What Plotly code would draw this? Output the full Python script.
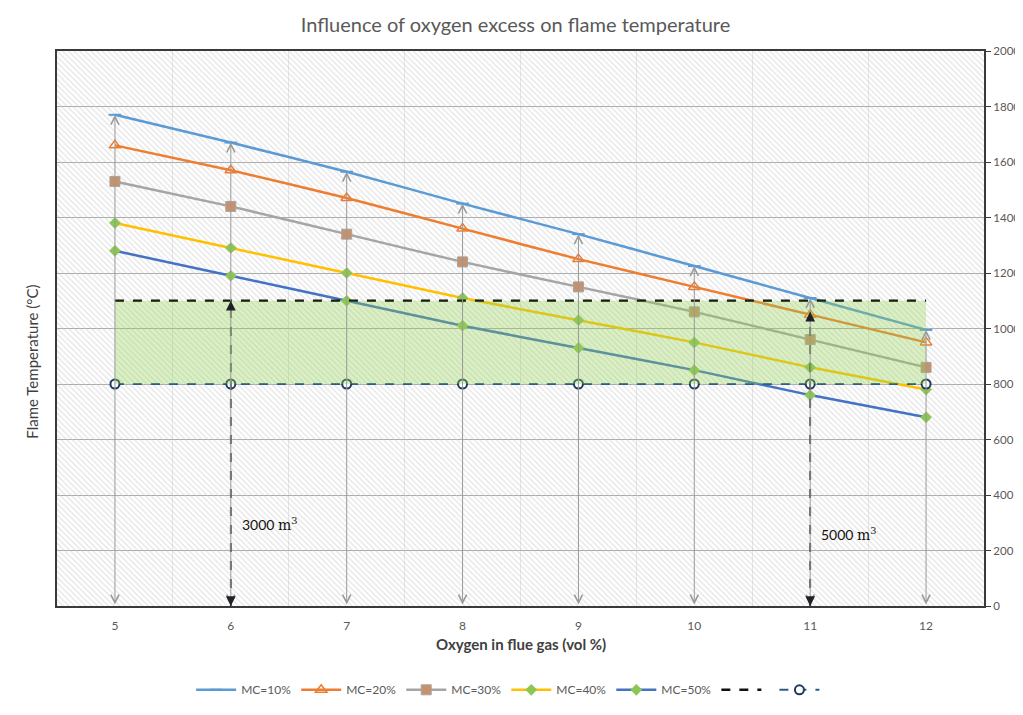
import plotly.graph_objects as go

# ---- data ----
oxygen = [5, 6, 7, 8, 9, 10, 11, 12]
mc10 = [1770, 1670, 1565, 1450, 1340, 1225, 1110, 995]
mc20 = [1660, 1570, 1470, 1360, 1250, 1150, 1050, 950]
mc30 = [1530, 1440, 1340, 1240, 1150, 1060, 960, 860]
mc40 = [1380, 1290, 1200, 1110, 1030, 950, 860, 780]
mc50 = [1280, 1190, 1100, 1010, 930, 850, 760, 680]
series_names = ["MC=10%", "MC=20%", "MC=30%", "MC=40%", "MC=50%"]
upper_limit = [1100] * len(oxygen)
lower_limit = [800] * len(oxygen)
volume_x = [6, 11]
volume_top = [1100, 1060]
volume_labels = ["3000", "5000"]
y_ticks = [0, 200, 400, 600, 800, 1000, 1200, 1400, 1600, 1800, 2000]

X_RANGE = [4.5, 12.5]
Y_RANGE = [0, 2000]

FONT = "Lato, 'Open Sans', sans-serif"
GRAY_TXT = "#595959"

fig = go.Figure()

# hatched plot background
fig.add_trace(go.Scatter(
    x=[X_RANGE[0], X_RANGE[1], X_RANGE[1], X_RANGE[0], X_RANGE[0]],
    y=[Y_RANGE[0], Y_RANGE[0], Y_RANGE[1], Y_RANGE[1], Y_RANGE[0]],
    mode="lines", line=dict(width=0), fill="toself",
    fillcolor="rgba(255,255,255,0)",
    fillpattern=dict(shape="\\", fgcolor="#c8c8c8", bgcolor="rgba(255,255,255,0)",
                     size=4, solidity=0.3),
    hoverinfo="skip", showlegend=False))

styles = [
    dict(color="#5B9BD5", marker=dict(symbol="line-ew", size=9,
                                      line=dict(color="#5B9BD5", width=2))),
    dict(color="#ED7D31", marker=dict(symbol="triangle-up-open", size=10,
                                      color="#ED7D31", line=dict(width=1.5))),
    dict(color="#A5A5A5", marker=dict(symbol="square", size=10, color="#C8916A",
                                      line=dict(color="#A5A5A5", width=1))),
    dict(color="#FFC000", marker=dict(symbol="diamond", size=9, color="#8CC653")),
    dict(color="#4472C4", marker=dict(symbol="diamond", size=9, color="#8CC653")),
]
for name, ys, st in zip(series_names, [mc10, mc20, mc30, mc40, mc50], styles):
    fig.add_trace(go.Scatter(
        x=oxygen, y=ys, name=name, mode="lines+markers",
        line=dict(color=st["color"], width=2.5, shape="spline", smoothing=0.5),
        marker=st["marker"]))

# threshold lines
fig.add_trace(go.Scatter(
    x=oxygen, y=upper_limit, name=" ", mode="lines",
    line=dict(color="#111111", width=2.5, dash="dash")))
fig.add_trace(go.Scatter(
    x=oxygen, y=lower_limit, name=" ", mode="lines+markers",
    line=dict(color="#2E5C8A", width=2, dash="dash"),
    marker=dict(symbol="circle", size=9, color="white",
                line=dict(color="#1F3B5C", width=2))))

# vertical dashed volume lines
for vx, vt in zip(volume_x, volume_top):
    fig.add_trace(go.Scatter(
        x=[vx, vx], y=[0, vt], mode="lines",
        line=dict(color="#2B2F36", width=1.8, dash="dash"),
        hoverinfo="skip", showlegend=False))

# green feasible band (drawn on top)
fig.add_trace(go.Scatter(
    x=oxygen, y=lower_limit, mode="lines", line=dict(width=0),
    hoverinfo="skip", showlegend=False))
fig.add_trace(go.Scatter(
    x=oxygen, y=upper_limit, mode="lines", line=dict(width=0),
    fill="tonexty", fillcolor="rgba(146,208,80,0.33)",
    hoverinfo="skip", showlegend=False))

annotations = []
# gray double-headed arrows from 0 to MC=10%
for xv, top in zip(oxygen, mc10):
    annotations.append(dict(
        x=xv, y=top, ax=xv, ay=0, xref="x", yref="y", axref="x", ayref="y",
        text="", showarrow=True, arrowside="end+start", arrowhead=5, startarrowhead=5,
        arrowsize=1.6, startarrowsize=1.6, arrowwidth=1, arrowcolor="#9A9A9A",
        standoff=0, startstandoff=0))
# black arrowheads for volume lines
for vx, vt, lab, ly in zip(volume_x, volume_top, volume_labels, [295, 260]):
    annotations.append(dict(
        x=vx, y=vt, ax=0, ay=10, xref="x", yref="y", text="", showarrow=True,
        arrowhead=2, arrowsize=1.3, arrowwidth=1.5, arrowcolor="#1E2228", standoff=0))
    annotations.append(dict(
        x=vx, y=0, ax=0, ay=-10, xref="x", yref="y", text="", showarrow=True,
        arrowhead=2, arrowsize=1.3, arrowwidth=1.5, arrowcolor="#1E2228", standoff=0))
    annotations.append(dict(
        x=vx, y=ly, xref="x", yref="y", xanchor="left", yanchor="middle", xshift=9,
        text=lab + " <span style='font-family:\"DejaVu Serif\", serif'>m<sup>3</sup></span>",
        showarrow=False, font=dict(family=FONT, size=14, color="#111111")))

# axis titles
annotations.append(dict(
    x=-0.039, y=0.44, xref="paper", yref="paper", textangle=-90,
    text="Flame Temperature (°C)", showarrow=False,
    font=dict(family=FONT, size=15, color="#404040")))
annotations.append(dict(
    x=0.5, y=-0.0685, xref="paper", yref="paper", yanchor="middle",
    text="<b>Oxygen in flue gas (vol %)</b>", showarrow=False,
    font=dict(family=FONT, size=15, color="#404040")))

# figure is placed 8px into the page by the default body margin;
# keep it small enough that the page never needs a scrollbar
fig.update_layout(
    width=1015, height=692, autosize=False,
    margin=dict(l=49, r=39, t=43, b=94, autoexpand=False),
    paper_bgcolor="white", plot_bgcolor="white",
    title=dict(text="Influence of oxygen excess on flame temperature",
               x=0.5, xref="container", xanchor="center",
               y=0.9754, yref="container", yanchor="middle",
               font=dict(family=FONT, size=20, color=GRAY_TXT)),
    font=dict(family=FONT, size=12, color=GRAY_TXT),
    showlegend=True,
    legend=dict(orientation="h", x=0.491, xanchor="center",
                y=-0.151, yanchor="middle", itemwidth=40, traceorder="normal",
                font=dict(family=FONT, size=12, color=GRAY_TXT),
                bgcolor="rgba(0,0,0,0)"),
    annotations=annotations,
)
fig.update_xaxes(
    range=X_RANGE, tickmode="array", tickvals=oxygen, ticktext=[str(v) for v in oxygen],
    showgrid=False, zeroline=False, showline=True, mirror=True,
    linecolor="#3A3A3A", linewidth=2, ticks="", ticklabelstandoff=8,
    minor=dict(tickmode="linear", tick0=5.5, dtick=1, showgrid=True,
               gridcolor="#E6E6E6", gridwidth=1, ticks=""),
    tickfont=dict(family=FONT, size=12, color=GRAY_TXT))
fig.update_yaxes(
    range=Y_RANGE, side="right", tickmode="array", tickvals=y_ticks,
    showgrid=True, gridcolor="#AAAAAA", gridwidth=1.2, zeroline=False,
    showline=True, mirror=True, linecolor="#3A3A3A", linewidth=2,
    ticks="outside", ticklen=5, tickcolor="#3A3A3A", ticklabelstandoff=0,
    tickfont=dict(family=FONT, size=11.5, color=GRAY_TXT))

fig.write_html("out.html")
